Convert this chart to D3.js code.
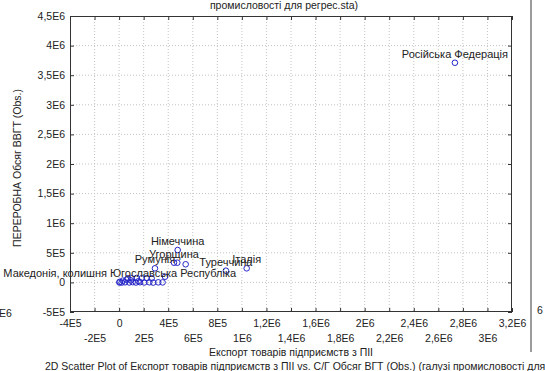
<!DOCTYPE html>
<html><head><meta charset="utf-8">
<script src="https://cdn.jsdelivr.net/npm/d3@7"></script>
<style>
body{margin:0;background:#fff;}
svg{display:block;font-family:"Liberation Sans",Arial,sans-serif;}
</style></head>
<body>
<svg id="c" width="545" height="371"></svg>
<script>
// ---- data ----
const exportVals = [2735000, 477000, 447000, 474000, 542000, 292000, 870000, 1039000, 5000,
  2000, 21000, 48000, 83000, 110000, 137000, 170000, 205000, 246000, 278000, 319000, 354000,
  72000, 102000, 143000, 184000, 225000, 265000, 374000, 30000, 60000, 95000, 158000];
const volumeVals = [3710000, 547000, 333000, 333000, 306000, 238000, 198000, 238000, 10000,
  -2000, -3000, 2000, -1000, 4000, -2000, 3000, -1000, 2000, -3000, 1000, 0,
  69000, 69000, 75000, 69000, 72000, 69000, 96000, 30000, 45000, 35000, 20000];
const pointLabels = ["Російська Федерація", "Німеччина", "Угорщина", "", "", "Румунія", "Туреччина", "Італія",
  "Македонія, колишня Югославська Республіка",
  "", "", "", "", "", "", "", "", "", "", "", "",
  "", "", "", "", "", "", "", "", "", "", ""];
const xTickVals = [-400000,-200000,0,200000,400000,600000,800000,1000000,1200000,1400000,1600000,1800000,2000000,2200000,2400000,2600000,2800000,3000000,3200000];
const xTickLabels = ["-4E5","-2E5","0","2E5","4E5","6E5","8E5","1E6","1,2E6","1,4E6","1,6E6","1,8E6","2E6","2,2E6","2,4E6","2,6E6","2,8E6","3E6","3,2E6"];
const yTickVals = [-500000,0,500000,1000000,1500000,2000000,2500000,3000000,3500000,4000000,4500000];
const yTickLabels = ["-5E5","0","5E5","1E6","1,5E6","2E6","2,5E6","3E6","3,5E6","4E6","4,5E6"];
const xTitle = "Експорт товарів підприємств з ПІІ";
const yTitle = "ПЕРЕРОБНА Обсяг ВВГТ (Obs.)";
const topTitle = "промисловості для регрес.sta)";
const bottomTitle = "2D Scatter Plot of Експорт товарів підприємств з ПІІ vs. С/Г Обсяг ВГТ (Obs.) (галузі промисловості для";

// ---- layout ----
const L = 70, T = 16, W = 442, H = 296;
const svg = d3.select("#c");
const x = d3.scaleLinear().domain([-400000, 3200000]).range([L, L + W]);
const y = d3.scaleLinear().domain([-500000, 4500000]).range([T + H, T]);
const txt = "#222";

// grid
const g = svg.append("g");
g.selectAll("line.gx").data(xTickVals.slice(1, -1)).join("line")
  .attr("x1", d => x(d)).attr("x2", d => x(d)).attr("y1", T).attr("y2", T + H)
  .attr("stroke", "#c4c4c4").attr("stroke-width", 1).attr("stroke-dasharray", "1,2");
g.selectAll("line.gy").data(yTickVals.slice(1, -1)).join("line")
  .attr("y1", d => y(d)).attr("y2", d => y(d)).attr("x1", L).attr("x2", L + W)
  .attr("stroke", "#c4c4c4").attr("stroke-width", 1).attr("stroke-dasharray", "1,2");

// axes with inward ticks on all sides
const fmtX = d => xTickLabels[xTickVals.indexOf(d)];
const fmtY = d => yTickLabels[yTickVals.indexOf(d)];
const axB = svg.append("g").attr("transform", `translate(0,${T + H})`)
  .call(d3.axisBottom(x).tickValues(xTickVals).tickFormat(fmtX).tickSizeInner(-4).tickSizeOuter(0));
const axT = svg.append("g").attr("transform", `translate(0,${T})`)
  .call(d3.axisTop(x).tickValues(xTickVals).tickFormat("").tickSizeInner(-4).tickSizeOuter(0));
const axL = svg.append("g").attr("transform", `translate(${L},0)`)
  .call(d3.axisLeft(y).tickValues(yTickVals).tickFormat(fmtY).tickSizeInner(-4).tickSizeOuter(0));
const axR = svg.append("g").attr("transform", `translate(${L + W},0)`)
  .call(d3.axisRight(y).tickValues(yTickVals).tickFormat("").tickSizeInner(-4).tickSizeOuter(0));
[axB, axT, axL, axR].forEach(a => {
  a.select(".domain").remove();
  a.selectAll(".tick line").attr("stroke", "#333");
});
axB.selectAll(".tick text").attr("font-size", 10.5).attr("fill", txt)
  .attr("y", (d, i) => i % 2 === 0 ? 8 : 23).attr("dy", "0.71em")
  .attr("font-family", "Liberation Sans, Arial, sans-serif");
axL.selectAll(".tick text").attr("font-size", 10.5).attr("fill", txt).attr("x", -5)
  .attr("font-family", "Liberation Sans, Arial, sans-serif");

// frame
svg.append("rect").attr("x", L + 0.5).attr("y", T + 0.5).attr("width", W - 1).attr("height", H - 1)
  .attr("fill", "none").attr("stroke", "#333").attr("stroke-width", 1);

// points
const pts = exportVals.map((v, i) => ({x: v, y: volumeVals[i], label: pointLabels[i]}));
svg.append("g").selectAll("circle").data(pts).join("circle")
  .attr("cx", d => x(d.x)).attr("cy", d => y(d.y)).attr("r", 2.8)
  .attr("fill", "none").attr("stroke", "#2626c8").attr("stroke-width", 1);

// point labels (centered above point)
svg.append("g").selectAll("text").data(pts.filter(d => d.label)).join("text")
  .attr("x", d => x(d.x)).attr("y", d => y(d.y) - 5)
  .attr("text-anchor", "middle").attr("font-size", 11).attr("fill", txt)
  .text(d => d.label);

// titles
svg.append("text").attr("x", L + W / 2).attr("y", 356).attr("text-anchor", "middle")
  .attr("font-size", 10.5).attr("fill", txt).text(xTitle);
svg.append("text").attr("transform", "translate(21,168) rotate(-90)").attr("text-anchor", "middle")
  .attr("font-size", 10.5).attr("fill", txt).text(yTitle);
svg.append("text").attr("x", 284).attr("y", 9).attr("text-anchor", "middle")
  .attr("font-size", 10.5).attr("fill", txt).text(topTitle);
svg.append("text").attr("x", 45).attr("y", 370).attr("text-anchor", "start")
  .attr("font-size", 10.5).attr("fill", txt).text(bottomTitle);

// stray fragments from the cropped page
svg.append("text").attr("x", -1).attr("y", 317).attr("font-size", 10.5).attr("fill", txt).text("E6");
svg.append("text").attr("x", 537).attr("y", 314).attr("font-size", 10.5).attr("fill", txt).text("6");
svg.append("line").attr("x1", 531).attr("x2", 531).attr("y1", 0).attr("y2", 352)
  .attr("stroke", "#7a7a7a").attr("stroke-width", 1.5);
</script>
</body></html>
